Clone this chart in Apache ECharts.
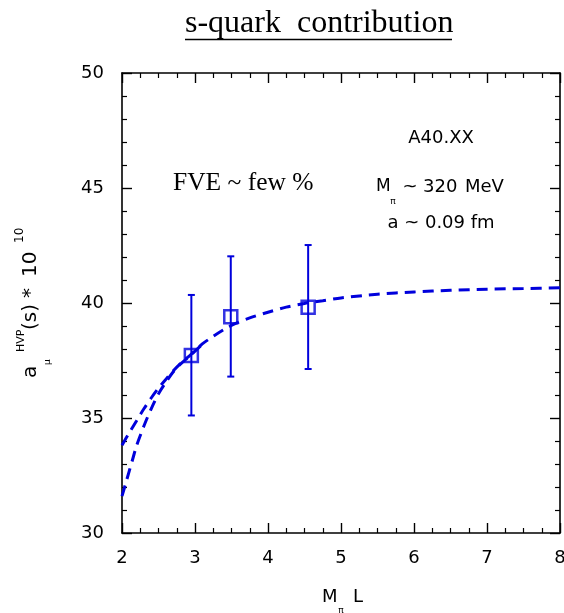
<!DOCTYPE html>
<html>
<head>
<meta charset="utf-8">
<script src="https://cdn.jsdelivr.net/npm/echarts@6/dist/echarts.min.js"></script>
<style>
html,body{margin:0;padding:0;background:#fff;overflow:hidden;}
#c{width:564px;height:613px;}
</style>
</head>
<body>
<div id="c"></div>
<script>
// ---- data ----
const pointX = [2.95, 3.49, 4.55];
const pointY = [37.72, 39.40, 39.81];
const errUp = [2.63, 2.63, 2.71];
const errDown = [2.61, 2.60, 2.68];

const upperX = [2.0, 2.1, 2.2, 2.3, 2.4, 2.5, 2.6, 2.7, 2.8, 2.95, 3.1, 3.25, 3.4, 3.55, 3.75, 4.0, 4.25, 4.5, 4.75, 5.0, 5.5, 6.0, 6.5, 7.0, 7.5, 8.0];
const upperY = [33.82, 34.36, 34.88, 35.4, 35.87, 36.3, 36.68, 37.04, 37.36, 37.78, 38.22, 38.55, 38.85, 39.1, 39.35, 39.6, 39.82, 39.98, 40.1, 40.22, 40.38, 40.48, 40.55, 40.6, 40.63, 40.66];

const lowerX = [2.0, 2.05, 2.1, 2.15, 2.2, 2.3, 2.4, 2.5, 2.6, 2.7, 2.8, 2.95, 3.1];
const lowerY = [31.6, 32.15, 32.7, 33.25, 33.8, 34.65, 35.4, 36.05, 36.55, 37.0, 37.34, 37.76, 38.2];

const xTicks = {min: 2, max: 8, step: 1};
const yTicks = {min: 30, max: 50, step: 5};

const titleText = 's-quark  contribution';
const fveText = 'FVE ~ few %';
const ensembleText = 'A40.XX';
const spacingText = 'a ~ 0.09 fm';

// ---- chart ----
const blue = '#0000dc';
const chart = echarts.init(document.getElementById('c'), null, {renderer: 'canvas'});

function zip(a, b) { return a.map((v, i) => [v, b[i]]); }

function axis(kind, pos, showLabel, split) {
  const t = kind === 'x' ? xTicks : yTicks;
  return {
    type: 'value', position: pos, min: t.min, max: t.max, interval: t.step,
    axisLine: {show: true, onZero: false, lineStyle: {color: '#000', width: 1.6}},
    axisTick: {show: true, inside: true, length: 10, lineStyle: {color: '#000', width: 1.4}},
    minorTick: {show: true, splitNumber: split, length: 5, lineStyle: {color: '#000', width: 1.2}},
    splitLine: {show: false},
    minorSplitLine: {show: false},
    axisLabel: showLabel
      ? {show: true, color: '#000', fontFamily: 'DejaVu Sans', fontSize: 18, margin: kind === 'x' ? 16 : 18}
      : {show: false}
  };
}

const sans = (s) => s + 'px "DejaVu Sans"';
function txt(x, y, text, size, align, extra) {
  return Object.assign({type: 'text', x: x, y: y,
    style: {text: text, font: sans(size), fill: '#000', textAlign: align || 'left', textVerticalAlign: 'middle'}}, extra || {});
}

const option = {
  animation: false,
  backgroundColor: '#fff',
  grid: {left: 122, right: 4, top: 73, bottom: 80, containLabel: false, outerBoundsMode: 'none'},
  xAxis: [axis('x', 'bottom', true, 4), axis('x', 'top', false, 4)],
  yAxis: [axis('y', 'left', true, 5), axis('y', 'right', false, 5)],
  series: [
    {
      type: 'line', xAxisIndex: 0, yAxisIndex: 0,
      data: zip(upperX, upperY), smooth: 0.3, showSymbol: false, symbol: 'none',
      lineStyle: {color: blue, width: 3, type: [11, 7]}, z: 3
    },
    {
      type: 'line', xAxisIndex: 0, yAxisIndex: 0,
      data: zip(lowerX, lowerY), smooth: 0.3, showSymbol: false, symbol: 'none',
      lineStyle: {color: blue, width: 3, type: [11, 7]}, z: 3
    },
    {
      type: 'custom', xAxisIndex: 0, yAxisIndex: 0,
      data: pointX.map((x, i) => [x, pointY[i] - errDown[i], pointY[i] + errUp[i]]),
      renderItem: function (params, api) {
        const x = api.value(0);
        const lo = api.coord([x, api.value(1)]);
        const hi = api.coord([x, api.value(2)]);
        const w = 3.5;
        const st = {stroke: blue, lineWidth: 2};
        return {
          type: 'group',
          children: [
            {type: 'line', shape: {x1: lo[0], y1: lo[1], x2: hi[0], y2: hi[1]}, style: st},
            {type: 'line', shape: {x1: lo[0] - w, y1: lo[1], x2: lo[0] + w, y2: lo[1]}, style: st},
            {type: 'line', shape: {x1: hi[0] - w, y1: hi[1], x2: hi[0] + w, y2: hi[1]}, style: st}
          ]
        };
      },
      z: 4
    },
    {
      type: 'scatter', xAxisIndex: 0, yAxisIndex: 0,
      data: zip(pointX, pointY), symbol: 'rect', symbolSize: 13,
      itemStyle: {color: 'rgba(0,0,0,0)', borderColor: blue, borderWidth: 2.5},
      z: 5
    }
  ],
  graphic: [
    // title with underline
    {type: 'text', left: 185, top: 8, style: {text: titleText, font: '32px "Liberation Serif"', fill: '#000'}},
    {type: 'line', shape: {x1: 185, y1: 39.5, x2: 452, y2: 39.5}, style: {stroke: '#000', lineWidth: 1.6}},
    // FVE annotation
    {type: 'text', x: 173, y: 183, style: {text: fveText, font: '25.5px "Liberation Serif"', fill: '#000', textAlign: 'left', textVerticalAlign: 'middle'}},
    // ensemble annotations
    txt(441, 138, ensembleText, 18, 'center'),
    txt(376, 187, 'M', 17, 'left'),
    txt(393, 202, 'π', 9, 'center'),
    txt(410, 187, '~', 18, 'center'),
    txt(423, 187, '320', 18, 'left'),
    txt(465, 187, 'MeV', 18, 'left'),
    txt(441, 223, spacingText, 18, 'center'),
    // x axis name  M_pi L
    txt(322, 597, 'M', 18, 'left'),
    txt(341, 611, 'π', 9, 'center'),
    txt(353, 597, 'L', 18, 'left'),
    // y axis name  a_mu^HVP(s) * 10^10 (rotated)
    {
      type: 'group', x: 31, y: 378, rotation: Math.PI / 2,
      children: [
        txt(0, 0, 'a', 20, 'left'),
        txt(13, 17, 'μ', 9, 'left'),
        txt(26, -10, 'HVP', 11, 'left'),
        txt(48, 0, '(s)', 20, 'left'),
        txt(85, 0, '*', 20, 'center'),
        txt(101, 0, '10', 20, 'left'),
        txt(135, -11, '10', 12, 'left')
      ]
    }
  ]
};
chart.setOption(option);
</script>
</body>
</html>
